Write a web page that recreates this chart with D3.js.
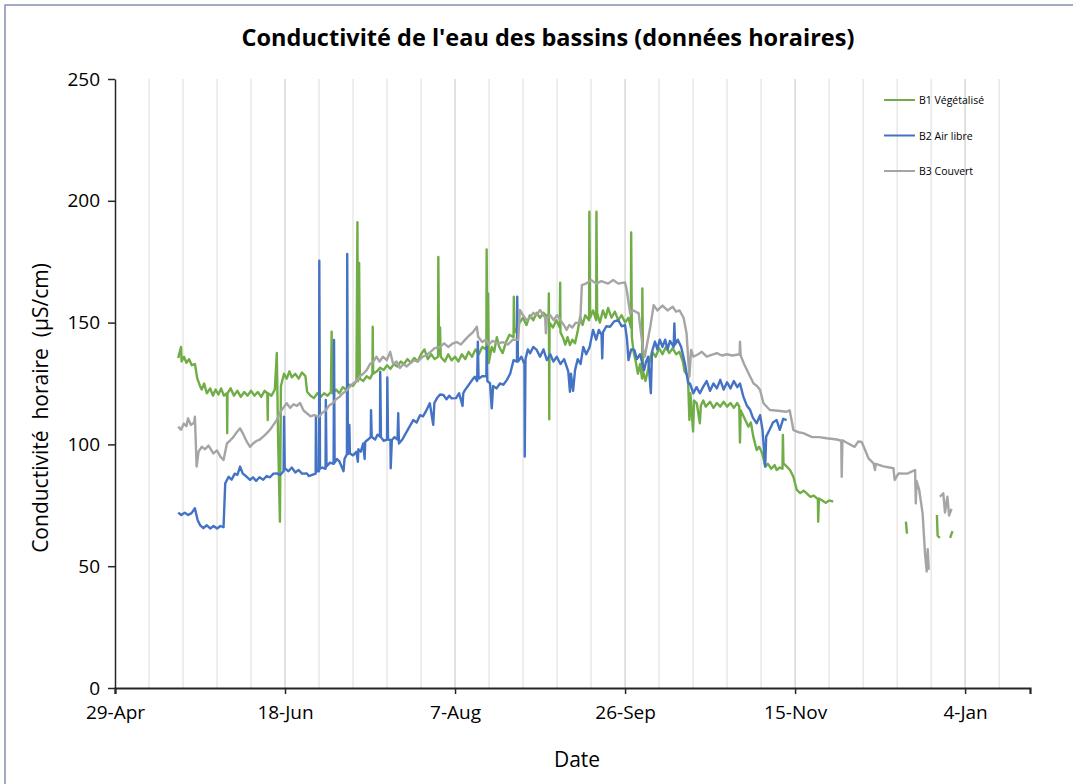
<!DOCTYPE html>
<html>
<head>
<meta charset="utf-8">
<script src="https://cdn.jsdelivr.net/npm/d3@7"></script>
<style>
  body { margin: 0; background: #fff; }
  text { font-family: "Open Sans", "Noto Sans", sans-serif; fill: #000; }
</style>
</head>
<body>
<svg id="chart" width="1073" height="784"></svg>
<script>
// start of the series: 29-Apr, each point is [days since start, µS/cm]
const startDate = Date.UTC(2019, 3, 29);
const seriesNames = ["B1 Végétalisé", "B2 Air libre", "B3 Couvert"];
const seriesColors = ["#70AD47", "#4472C4", "#A5A5A5"];
const tickDays = [0, 50, 100, 150, 200, 250];
const yTicks = [0, 50, 100, 150, 200, 250];

const b1 = [
  [18.6,135.4],[19.4,140],[19.6,134],[20.3,136],[21,133.5],[21.8,135],[22.6,132.5],[23.5,133],
  [24.2,127],[25,124],[25.5,122.5],[26.2,125],[27,121],[28,123],[28.8,120],[29.6,122.5],[30.4,120.5],
  [31.2,123],[32,120],[32.9,121],[33.0,104.7],[33.1,121],[34,123],[35,120],[36,122],[37,119.5],
  [38,121.5],[39,120],[40,122],[41,120],[42,121.5],[43,119.5],[44,122],[44.8,121],[44.9,110],[45,121],
  [46,120],[47,122.5],[47.6,137.5],[48.0,100],[48.5,68.3],[48.8,124],[49.7,129],[50.5,127],[51.3,130],
  [52,127.5],[53,129],[54,127],[55,129.5],[56,128],[56.5,121.6],[57.5,120],[58.5,119],[59.5,121],
  [60.5,119.5],[61.5,121],[62.5,120],[63.5,121.5],[63.7,146.3],[63.9,121],[65,122.5],[66,121],
  [67,123.5],[68,122.5],[69,124.5],[70,124],[71,126],[71.3,191.2],[71.5,126],[71.8,174.5],[72,127],
  [73,126],[74,128],[75,127],[75.7,129],[75.8,148.3],[75.9,129],[77,130],[78,131.5],[79,130.5],
  [80,132.5],[81,131],[82,133],[83,132],[84,134],[85,133],[86,135],[87,133.5],[88,135.5],[89,134],
  [90,137],[91,139],[92,135],[93,137],[94,135],[95,136],[95.1,177],[95.3,137],[95.6,148],[95.8,136],
  [97,134],[98,137],[99,134.5],[100,136],[101,134],[102,137],[103,135],[104,138],[105,136],[106,139],
  [107,137],[108,140],[109.2,139],[109.3,180],[109.5,138],[109.7,162],[109.9,133.4],[110.8,140],
  [111.5,138],[112.3,144],[113,140],[114,137.5],[115,142],[116,145],[117.2,144],[117.3,160.6],
  [117.5,146],[118.3,148],[119,150],[120,152],[121,149],[122,153],[123,151],[124,154],[125,152],
  [126,154],[127.5,152],[127.6,162],[127.7,110.3],[127.8,150],[128.8,148],[129.8,151],[130.8,148],
  [130.9,166.4],[131,146],[131.7,144],[132.4,141],[133.1,144],[133.8,140.8],[134.5,143],[135.3,141.5],
  [136,146],[136.8,152.4],[137.5,149],[138.3,153],[139.4,151],[139.5,195.5],[139.7,152],[140.6,155],
  [141.5,151],[141.6,195.5],[141.8,154],[142.6,150],[143.5,155],[144.3,152],[145,156],[146,152],
  [147,154.5],[148,151],[149,153],[150,150],[151,152],[151.7,148],[151.8,187],[152,144],[152.5,138],
  [153,135],[153.8,129],[154.4,133],[155,127],[155.1,164],[155.3,130],[156,126],[156.8,131],
  [157.5,136],[158,138],[159,136],[160,139.5],[161,137],[162,140],[163,137.5],[164,139.5],[165,137],
  [166,138],[167,134],[167.5,130],[168.5,128],[168.9,110],[169.2,121],[170,105.3],[170.3,118],
  [171.1,116.9],[172,108.7],[172.3,116],[173,118],[173.7,115.5],[175,117.5],[176,115],[177,117],
  [178,115.5],[179,117.5],[180,115.5],[181,117],[182,115],[183,117],[183.6,115.5],[183.8,100.8],
  [184,114],[185,111],[186.3,107.3],[187,109],[187.7,103.2],[188.7,97.7],[189.4,99],[190,97.5],
  [190.6,95],[191.2,90.9],[192,92],[193,90],[194,91.5],[194.6,89.5],[195.5,90.5],[196.3,90],
  [196.4,103.9],[196.6,92.2],[197.5,91],[198.5,89.5],[199.5,86.7],[200.5,81.3],[201.5,80],
  [202.5,81],[203.4,79.9],[204.5,78.5],[205.5,79],[206.7,77.5],[206.8,68.3],[207,77.8],[208,77],
  [209,76],[210,77],[211.2,76.5],[211.3,null],
  [232.6,68.3],[232.9,63.4],[233,null],
  [241.7,71],[241.9,62.5],[242.6,61.6],[242.7,null],
  [245.6,61.6],[246.3,64.4]
];

const b2 = [
  [18.6,72],[19.5,71],[20.5,72],[21.5,71],[22.5,71.8],[23.5,73.8],[24.3,69],[25,66.9],[26,65.6],
  [27,66.8],[28,65.5],[29,66.5],[30,65.5],[31,66.5],[31.9,66],[32.4,84],[33.4,86.7],[34.3,85.5],
  [35.2,88],[36,87.5],[36.8,90.9],[37.6,88],[38.5,87],[39.7,85.4],[40.6,86.5],[41.5,85],[42.5,86.5],
  [43.6,85.5],[44.6,87],[45.6,86.5],[46.6,88],[47.6,88.1],[48.6,87.5],[49.6,89],[49.7,111.4],
  [49.9,90.2],[51,89],[52,90.5],[53,88.5],[54,89.5],[55,88],[56.4,88.1],[57,87],[58,87.5],[59,88],
  [59.1,111.4],[59.3,89],[60,89],[60.1,175.4],[60.3,90],[61,90.5],[61.9,90],[62,118.2],[62.2,91],
  [63.2,92.5],[64.3,92],[64.4,142.9],[64.6,92.5],[65.3,94],[66,93],[67.2,89],[67.5,94],[68.2,96],
  [68.3,178.2],[68.5,96],[68.9,108],[69.1,96.3],[70,95.5],[71,97],[71.4,92.9],[71.6,98],[72.3,97],
  [73,100.4],[73.4,94],[73.6,101],[74.4,102],[75.2,103],[75.3,114],[75.5,103],[76.5,102],[77.2,104],
  [77.9,103.2],[78,129.8],[78.2,103],[79,101.5],[80,102],[80.1,127.5],[80.3,102],[81,101.8],
  [81.1,90.2],[81.4,101.8],[82.2,103],[83.1,102],[83.3,112.8],[83.5,100.4],[84.5,102],[85.5,104.5],
  [86.5,107],[87.7,110],[88.7,109],[89.7,112],[90.6,111.5],[91.6,114],[92.6,116.9],[93.6,108],
  [93.9,117],[94.7,119],[95.6,120.5],[96.6,120.3],[97.5,118.5],[98.3,120],[99,118.9],[100.3,119],
  [101.2,121],[102.2,115.8],[102.4,121],[102.9,122.3],[103.8,124],[104.8,126],[105.8,127.8],
  [106.5,126],[106.7,142.2],[106.9,127],[108,128],[109.2,128],[109.3,140],[109.5,126],[110.3,125.1],
  [110.8,114.8],[111.2,124],[112.2,123],[113.2,125],[114.2,124.5],[115.2,126.4],[116.2,129],
  [117.2,134.6],[118.2,134],[118.3,160.6],[118.5,134],[119.5,136],[120.4,133],[120.5,95],[120.7,135],
  [121.4,139],[122.1,137.4],[123,140],[124,138.8],[125,136],[126,139],[127,134.6],[128,137],[128.9,134],
  [129.9,136],[131,133],[132.1,135],[133.3,130],[133.8,121.6],[134.1,129],[134.7,122],[135.3,130.5],
  [136.1,135],[136.9,133],[137.7,140],[138.6,137],[139.6,140],[140.6,147],[141.5,143],[142.3,147],
  [143.1,145],[143.3,135.3],[143.5,146],[144.5,148.5],[145.6,148.3],[146.8,150.5],[148,151],
  [149,148.5],[150,149],[150.6,142.9],[151,134.6],[151.8,139],[152.7,138.8],[153.5,135],[154.4,137],
  [155.6,130.5],[156.2,134],[156.8,136],[157.6,121],[157.9,138],[158.8,142.2],[159.5,139],[160.2,143],
  [161,140],[161.8,143],[162.5,139],[163.2,142.5],[164.3,140],[164.5,149.7],[164.7,141],[165.5,143],
  [166.5,140],[167.6,133.3],[168.6,125],[169.1,125],[170.1,121],[171,123.5],[172,121],[173,123.7],
  [174,126],[175,122],[176,125],[177,123],[178,126.5],[179,122.5],[180,125.5],[181,123],[182,126],
  [183,123.5],[183.8,125],[184.8,119.6],[185.8,116],[186.8,114.1],[187.6,111],[188.7,108.7],
  [189.7,112],[190.4,106],[191.2,90.9],[191.5,103.2],[192.5,106],[193.5,109],[194.6,110],[195.5,106],
  [196.5,110.5],[197.5,110]
];

const b3 = [
  [18.6,107.3],[19.4,106],[20.2,108.5],[21,107.5],[21.5,110.7],[22.3,108],[23.3,109],[23.5,111.4],
  [24,90.9],[24.6,97],[25.5,99],[26.5,98],[27.5,99.5],[28.9,96.3],[30,97.5],[31,95],[31.9,93.6],
  [32.9,100.4],[33.8,101.5],[34.8,103],[35.8,105],[36.8,106.6],[37.8,104],[38.8,101],[39.7,99],
  [40.7,100.5],[41.7,101.5],[42.6,102],[43.6,103.2],[44.6,104.5],[45.6,106],[46.6,108],[47.6,110],
  [48.5,113],[49.5,115],[50.5,116.9],[51.5,115],[52.5,116.5],[53.5,115.8],[54.4,117],[55.4,114],
  [56.4,112.8],[57.5,111.5],[58.5,112],[60,111.4],[61,113],[62,114],[63,116],[64.1,117],[65,118.5],
  [66,119.5],[67,121],[68,122],[69.1,123.7],[70,125],[71,126],[72,128],[73,129],[74,130.5],[75,133],
  [76,134],[76.9,136],[77.8,134],[78.8,136],[79.9,134.6],[80.9,138],[81.8,133],[82.8,134],[83.8,131.4],
  [84.8,133],[85.8,132],[86.8,133.3],[88,134.5],[89,134],[90.5,136],[91.7,136.7],[92.8,138],[94,139.5],
  [95.6,140],[96.8,141.5],[98,140],[99.4,141.5],[100.5,142],[101.7,141],[103,143],[104,144.5],
  [105.2,146],[106.4,148.3],[106.8,144.2],[108,142],[109,143],[110,141],[111,142.5],[112.8,141.5],
  [114,142],[115.5,141],[117,143],[118.6,142.9],[119.1,155.2],[120,153],[121,151],[122,151.8],
  [123,154],[124,153],[125,155.2],[126.5,152],[126.7,145.6],[127,151.8],[128,153],[129,151],[130,153],
  [131,151],[132,149],[132.8,147],[133.6,149],[134.5,148],[135.5,150],[136.8,149.7],[137.3,165.4],
  [138.5,166],[140,167.5],[141.5,166],[143,167],[145,166],[146.5,167.5],[148,166],[150,166.5],
  [150.5,163.4],[151.5,153.8],[152.5,155],[154,153.8],[155.3,138.8],[155.8,136],[157.4,148.3],
  [158.4,157.2],[159.5,155],[161,157],[162.5,155],[164,156.5],[165,154.5],[166,155],[167.2,152],
  [168.1,145.6],[168.9,127.8],[169.4,138.8],[170.1,136],[171.5,137],[172.6,138],[174,136],[175,136.5],
  [177,137.5],[178.5,136.5],[180,137],[181.5,136.5],[183.7,137],[183.8,142.2],[184,136.5],[185,133],
  [186.3,129.2],[187.8,125],[188.8,124],[189.7,122.3],[190.7,116.9],[192.6,114.1],[195,113.8],
  [197.5,113.4],[198.4,114],[199.5,105.9],[201,105],[202.4,104.6],[205,103],[207,103],[209.3,102.5],
  [212.3,102],[213.6,101.5],[213.7,86.7],[213.9,101.7],[215.5,100.5],[217.5,99],[218.6,101.2],
  [219.6,101],[220.5,98],[221.6,94.3],[223.1,92.2],[223.5,89.5],[223.7,92],[226,91],[228.9,90.2],
  [229.3,85.4],[230.4,88.1],[233,88],[235.3,89.5],[235.5,75.8],[235.7,85],[236.5,81.3],[237.5,71.7],
  [238.2,55.3],[238.7,47.8],[239,57],[239.3,48.5],[239.4,null],
  [242.6,78.5],[243.6,79.9],[244.1,72],[244.8,78.5],[245.3,70.8],[246,73.5]
];

const allSeries = [b1, b2, b3];

const svg = d3.select("#chart");
const margin = { left: 115, right: 1030, top: 79, bottom: 688 };

const toDate = d => d3.utcHour.offset(new Date(startDate), Math.round(d * 24));

const x = d3.scaleUtc()
  .domain([toDate(0), toDate(269.1)])
  .range([margin.left, margin.right]);

const y = d3.scaleLinear()
  .domain([0, 250])
  .range([margin.bottom, margin.top]);

// chart frame
svg.append("rect")
  .attr("x", 5).attr("y", 5)
  .attr("width", 1100).attr("height", 800)
  .attr("fill", "none")
  .attr("stroke", "#8393AE")
  .attr("stroke-width", 1.5);

// vertical gridlines every 10 days, darker on the labelled dates
const gridDays = d3.range(10, 270, 10);
svg.append("g")
  .selectAll("line")
  .data(gridDays)
  .join("line")
    .attr("x1", d => x(toDate(d)))
    .attr("x2", d => x(toDate(d)))
    .attr("y1", y(250))
    .attr("y2", y(0))
    .attr("stroke", d => d % 50 == 0 ? "#C3C3C3" : "#DCDCDC")
    .attr("stroke-width", 1);

// series lines
const line = d3.line()
  .defined(d => d[1] != null)
  .x(d => x(toDate(d[0])))
  .y(d => y(d[1]));

svg.append("g")
  .selectAll("path")
  .data(allSeries)
  .join("path")
    .attr("d", line)
    .attr("fill", "none")
    .attr("stroke", (d, i) => seriesColors[i])
    .attr("stroke-width", 2.4)
    .attr("stroke-linejoin", "round");

// axes
const xAxis = svg.append("g")
  .attr("transform", `translate(0,${y(0)})`)
  .call(d3.axisBottom(x)
    .tickValues(tickDays.map(toDate))
    .tickFormat(d3.utcFormat("%-d-%b"))
    .tickSize(6)
    .tickPadding(12));
xAxis.select(".domain").attr("stroke", "#262626").attr("stroke-width", 2.2);
xAxis.selectAll(".tick line").attr("stroke", "#262626").attr("stroke-width", 1.5);
xAxis.selectAll("text")
  .attr("font-size", 19)
  .attr("fill", "#000")
  .style("font-family", "'Open Sans', sans-serif");

const yAxis = svg.append("g")
  .attr("transform", `translate(${margin.left},0)`)
  .call(d3.axisLeft(y)
    .tickValues(yTicks)
    .tickSize(7)
    .tickPadding(8)
    .tickSizeOuter(0));
yAxis.select(".domain").attr("stroke", "#262626").attr("stroke-width", 1.5);
yAxis.selectAll(".tick line").attr("stroke", "#262626").attr("stroke-width", 1.5);
yAxis.selectAll("text")
  .attr("font-size", 19)
  .attr("fill", "#000")
  .style("font-family", "'Open Sans', sans-serif");

// titles
svg.append("text")
  .attr("x", 548).attr("y", 46)
  .attr("text-anchor", "middle")
  .attr("font-size", 23.5)
  .attr("font-weight", "bold")
  .text("Conductivité de l'eau des bassins (données horaires)");

svg.append("text")
  .attr("x", 577).attr("y", 767)
  .attr("text-anchor", "middle")
  .attr("font-size", 21)
  .text("Date");

svg.append("text")
  .attr("transform", "translate(48,408) rotate(-90)")
  .attr("text-anchor", "middle")
  .attr("font-size", 21)
  .attr("xml:space", "preserve")
  .style("white-space", "pre")
  .text("Conductivité  horaire  (µS/cm)");

// legend
const legend = svg.append("g")
  .selectAll("g")
  .data(seriesNames)
  .join("g")
    .attr("transform", (d, i) => `translate(884,${100 + i * 35.5})`);

legend.append("line")
  .attr("x1", 0).attr("x2", 31)
  .attr("stroke", (d, i) => seriesColors[i])
  .attr("stroke-width", 2);

legend.append("text")
  .attr("x", 35).attr("y", 4)
  .attr("font-size", 10.5)
  .text(d => d);
</script>
</body>
</html>
